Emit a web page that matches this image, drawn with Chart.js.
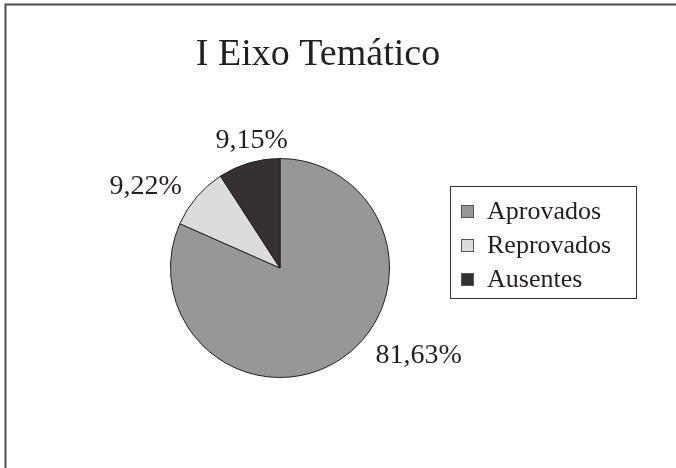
<!DOCTYPE html>
<html>
<head>
<meta charset="utf-8">
<script src="https://cdn.jsdelivr.net/npm/chart.js@4"></script>
<style>
  body { margin: 0; background: #fff; }
  canvas { display: block; }
</style>
</head>
<body>
<canvas id="pie" width="676" height="468"></canvas>
<script>
// data
var titleText = "I Eixo Temático"
var labels = ["Aprovados", "Reprovados", "Ausentes"]
var values = [81.63, 9.22, 9.15]

var colors = {
    aprovados: "#979797",
    reprovados: "#dcdcdc",
    ausentes: "#353131",
    border: "#231f20",
    text: "#231f20",
    frame: "#4a4a4a"
}
var sliceColors = [colors.aprovados, colors.reprovados, colors.ausentes]
var fontFamily = "'Liberation Serif', 'DejaVu Serif', serif"

// label placement (degrees shift from slice middle, px beyond the rim)
var labelShift = [-25, -9, 4]
var labelGap = [54, 48, 22]

function fmt(v) {
    return v.toFixed(2).replace(".", ",") + "%"
}

var decorations = {
    id: 'decorations',
    afterDraw: function (chart) {
        var ctx = chart.ctx
        ctx.save()

        // frame
        ctx.strokeStyle = colors.frame
        ctx.lineWidth = 2
        ctx.beginPath()
        ctx.moveTo(5.5, chart.height)
        ctx.lineTo(5.5, 4.5)
        ctx.lineTo(chart.width, 4.5)
        ctx.stroke()

        // title
        ctx.fillStyle = colors.text
        ctx.font = "38px " + fontFamily
        ctx.textAlign = "center"
        ctx.textBaseline = "alphabetic"
        ctx.fillText(titleText, 318, 65)

        // slice labels
        ctx.font = "28px " + fontFamily
        ctx.textBaseline = "middle"
        var arcs = chart.getDatasetMeta(0).data
        arcs.forEach(function (arc, i) {
            var mid = (arc.startAngle + arc.endAngle) / 2 + labelShift[i] * Math.PI / 180
            var d = arc.outerRadius + labelGap[i]
            var x = arc.x + Math.cos(mid) * d
            var y = arc.y + Math.sin(mid) * d
            ctx.fillText(fmt(values[i]), x, y + 1)
        })

        // legend
        ctx.strokeStyle = "#333"
        ctx.lineWidth = 1
        ctx.strokeRect(450.5, 186.5, 186, 112)
        ctx.font = "26px " + fontFamily
        ctx.textAlign = "left"
        labels.forEach(function (lab, i) {
            var cy = 212 + i * 34
            ctx.fillStyle = sliceColors[i]
            ctx.fillRect(461, cy - 7, 13, 13)
            ctx.strokeStyle = "#555"
            ctx.strokeRect(461.5, cy - 6.5, 12, 12)
            ctx.fillStyle = colors.text
            ctx.fillText(lab, 487, cy)
        })

        ctx.restore()
    }
}

new Chart(document.getElementById('pie'), {
    type: 'pie',
    data: {
        labels: labels,
        datasets: [{
            data: values,
            backgroundColor: sliceColors,
            borderColor: colors.border,
            borderWidth: 1
        }]
    },
    options: {
        responsive: false,
        animation: false,
        devicePixelRatio: 1,
        layout: {
            padding: {left: 170, right: 286, top: 158, bottom: 90}
        },
        plugins: {
            legend: {display: false},
            tooltip: {enabled: false},
            title: {display: false}
        }
    },
    plugins: [decorations]
});
</script>
</body>
</html>
